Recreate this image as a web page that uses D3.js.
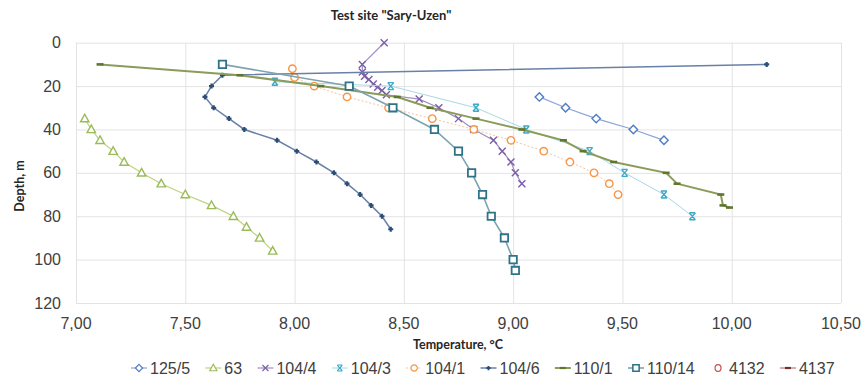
<!DOCTYPE html>
<html>
<head>
<meta charset="utf-8">
<script src="https://cdn.jsdelivr.net/npm/d3@7"></script>
<style>
  body { margin: 0; background: #fff; }
  text { font-family: "Liberation Sans", Arial, sans-serif; }
</style>
</head>
<body>
<div id="chart"></div>
<script>
// values: temperature (°C) and depth (m) per well
const seriesNames = ["125/5", "63", "104/4", "104/3", "104/1", "104/6", "110/1", "110/14", "4132", "4137"]

const temp125_5 = [9.12, 9.24, 9.38, 9.55, 9.69]
const depth125_5 = [25, 30, 35, 40, 45]

const temp63 = [7.04, 7.07, 7.11, 7.17, 7.22, 7.30, 7.39, 7.50, 7.62, 7.72, 7.78, 7.84, 7.90]
const depth63 = [35, 40, 45, 50, 55, 60, 65, 70, 75, 80, 85, 90, 96]

const temp104_4 = [8.41, 8.31, 8.31, 8.32, 8.34, 8.36, 8.38, 8.40, 8.42, 8.57, 8.66, 8.75, 8.82, 8.91, 8.95, 8.99, 9.01, 9.04]
const depth104_4 = [0, 10, 13.5, 15.5, 17, 19, 20.5, 22, 24, 26, 30, 35, 40, 45, 50, 55, 60, 65]

const temp104_3 = [7.91, 8.44, 8.83, 9.06, 9.35, 9.51, 9.69, 9.82]
const depth104_3 = [18, 20, 30, 40, 50, 60, 70, 80]

const temp104_1 = [7.99, 8.00, 8.09, 8.24, 8.43, 8.63, 8.82, 8.99, 9.14, 9.26, 9.37, 9.44, 9.48]
const depth104_1 = [12, 16, 20, 25, 30, 35, 40, 45, 50, 55, 60, 65, 70]

const temp104_6 = [10.16, 7.67, 7.62, 7.59, 7.63, 7.70, 7.77, 7.92, 8.01, 8.10, 8.18, 8.24, 8.30, 8.35, 8.40, 8.44]
const depth104_6 = [10, 15, 20, 25, 30, 35, 40, 45, 50, 55, 60, 65, 70, 75, 80, 86]

const temp110_1 = [7.11, 7.75, 8.12, 8.47, 8.62, 8.83, 9.04, 9.23, 9.32, 9.46, 9.70, 9.75, 9.95, 9.96, 9.99]
const depth110_1 = [10, 15, 20, 25, 30, 35, 40, 45, 50, 55, 60, 65, 70, 75, 76]

const temp110_14 = [7.67, 8.25, 8.45, 8.64, 8.75, 8.81, 8.86, 8.90, 8.96, 9.00, 9.01]
const depth110_14 = [10, 20, 30, 40, 50, 60, 70, 80, 90, 100, 105]

const temp4132 = []
const depth4132 = []
const temp4137 = []
const depth4137 = []

const xTicks = [7.0, 7.5, 8.0, 8.5, 9.0, 9.5, 10.0, 10.5]
const yTicks = [0, 20, 40, 60, 80, 100, 120]

const allTemps = [temp125_5, temp63, temp104_4, temp104_3, temp104_1, temp104_6, temp110_1, temp110_14, temp4132, temp4137]
const allDepths = [depth125_5, depth63, depth104_4, depth104_3, depth104_1, depth104_6, depth110_1, depth110_14, depth4132, depth4137]

// styling per series (same order as seriesNames)
const styles = [
  { marker: "diamond", color: "#4f7cc4", line: "#8aa5d6", lw: 1.2, dash: null },
  { marker: "triangle", color: "#9bbb59", line: "#bcd27e", lw: 1.2, dash: null },
  { marker: "x", color: "#7b5ea7", line: "#a18dc2", lw: 1.2, dash: null },
  { marker: "star", color: "#3fa9c9", line: "#a8d8e6", lw: 1, dash: null },
  { marker: "circle", color: "#f79646", line: "#f9c29a", lw: 1, dash: "2,2" },
  { marker: "plus", color: "#2c4d75", line: "#6a80a6", lw: 1.5, dash: null },
  { marker: "dash", color: "#5f7530", line: "#8a9b5a", lw: 2, dash: null },
  { marker: "square", color: "#2f7389", line: "#7ca3ae", lw: 1.6, dash: null },
  { marker: "bigcircle", color: "#c0504d", line: null, lw: 0, dash: null },
  { marker: "dash", color: "#772c2a", line: "#a06260", lw: 1, dash: null }
]

const width = 862
const height = 379
const margin = { left: 76, right: 21, top: 42.7, bottom: 76 }

const svg = d3.select("#chart").append("svg")
  .attr("width", width)
  .attr("height", height)

const x = d3.scaleLinear().domain([7, 10.5]).range([margin.left, width - margin.right])
const y = d3.scaleLinear().domain([0, 120]).range([margin.top, height - margin.bottom])

const fmt = v => d3.format(".2f")(v).replace(".", ",")

// gridlines
svg.append("g")
  .attr("transform", `translate(0,${y(120)})`)
  .call(d3.axisBottom(x).tickValues(xTicks).tickSize(-(y(120) - y(0))).tickFormat(""))
  .call(g => g.select(".domain").remove())
  .call(g => g.selectAll("line").attr("stroke", "#e3e3e3"))

svg.append("g")
  .attr("transform", `translate(${x(7)},0)`)
  .call(d3.axisLeft(y).tickValues(yTicks).tickSize(-(x(10.5) - x(7))).tickFormat(""))
  .call(g => g.select(".domain").remove())
  .call(g => g.selectAll("line").attr("stroke", "#e3e3e3"))

// tick labels
svg.append("g").selectAll("text")
  .data(xTicks).join("text")
  .attr("x", d => x(d))
  .attr("y", 329)
  .attr("text-anchor", "middle")
  .attr("font-size", 16)
  .attr("fill", "#404040")
  .text(fmt)

svg.append("g").selectAll("text")
  .data(yTicks).join("text")
  .attr("x", 61)
  .attr("y", d => y(d) + 5.5)
  .attr("text-anchor", "end")
  .attr("font-size", 16)
  .attr("fill", "#404040")
  .text(d => d)

// titles
svg.append("text")
  .attr("x", 391).attr("y", 20)
  .attr("text-anchor", "middle")
  .style("font-family", "Lato, sans-serif")
  .attr("font-weight", "bold").attr("font-size", 13)
  .attr("fill", "#262626")
  .text('Test site "Sary-Uzen"')

svg.append("text")
  .attr("x", 458).attr("y", 349)
  .attr("text-anchor", "middle")
  .style("font-family", "Lato, sans-serif")
  .attr("font-weight", "bold").attr("font-size", 12.5)
  .attr("fill", "#262626")
  .text("Temperature, °C")

svg.append("text")
  .attr("transform", "translate(24,186) rotate(-90)")
  .attr("text-anchor", "middle")
  .style("font-family", "Lato, sans-serif")
  .attr("font-weight", "bold").attr("font-size", 12.5)
  .attr("fill", "#262626")
  .text("Depth, m")

// marker shapes
function markerPath(type) {
  switch (type) {
    case "diamond": return "M0,-4.2L4.2,0L0,4.2L-4.2,0Z"
    case "triangle": return "M0,-4.4L4.2,3.2L-4.2,3.2Z"
    case "square": return "M-3.7,-3.7H3.7V3.7H-3.7Z"
    case "circle": return "M3.7,0A3.7,3.7 0 1,1 -3.7,0A3.7,3.7 0 1,1 3.7,0Z"
    case "bigcircle": return "M3.5,0A3.5,4 0 1,1 -3.5,0A3.5,4 0 1,1 3.5,0Z"
    case "x": return "M-3.5,-3.5L3.5,3.5M3.5,-3.5L-3.5,3.5"
    case "star": return "M-3,-3.5L3,3.5M3,-3.5L-3,3.5M-3,-3.5H3M-3,3.5H3"
    case "plus": return "M-2.5,0H2.5M0,-2.5V2.5"
    case "dash": return "M-3.5,0H3.5"
  }
}

function drawMarker(sel, st) {
  const open = ["diamond", "triangle", "square", "circle", "bigcircle"].includes(st.marker)
  sel.attr("d", markerPath(st.marker))
    .attr("fill", open ? "#fff" : "none")
    .attr("stroke", st.color)
    .attr("stroke-width", st.marker === "square" ? 1.8 : st.marker === "dash" ? 2.6 : st.marker === "plus" ? 2.2 : 1.4)
}

const line = d3.line().x(d => x(d[0])).y(d => y(d[1]))

seriesNames.forEach((name, i) => {
  const st = styles[i]
  const pts = allTemps[i].map((t, j) => [t, allDepths[i][j]])
  const g = svg.append("g").attr("class", "series")
  if (st.line && pts.length) {
    g.append("path")
      .datum(pts)
      .attr("d", line)
      .attr("fill", "none")
      .attr("stroke", st.line)
      .attr("stroke-width", st.lw)
      .attr("stroke-dasharray", st.dash)
  }
  g.selectAll("path.mk")
    .data(pts).join("path")
    .attr("class", "mk")
    .attr("transform", d => `translate(${x(d[0])},${y(d[1])})`)
    .call(drawMarker, st)
})

// legend
const legend = svg.append("g").attr("transform", "translate(0,368)")
let lx = 131
seriesNames.forEach((name, i) => {
  const st = styles[i]
  const item = legend.append("g").attr("transform", `translate(${lx},0)`)
  if (st.line) {
    item.append("line")
      .attr("x1", 0).attr("x2", 16).attr("y1", 0).attr("y2", 0)
      .attr("stroke", st.line).attr("stroke-width", st.lw)
      .attr("stroke-dasharray", st.dash)
  }
  item.append("path")
    .attr("transform", "translate(8,0) scale(0.85)")
    .call(drawMarker, st)
  const txt = item.append("text")
    .attr("x", 19).attr("y", 5.5)
    .attr("font-size", 16)
    .attr("fill", "#404040")
    .text(name)
  lx += 19 + txt.node().getComputedTextLength() + 15.3
})
</script>
</body>
</html>
